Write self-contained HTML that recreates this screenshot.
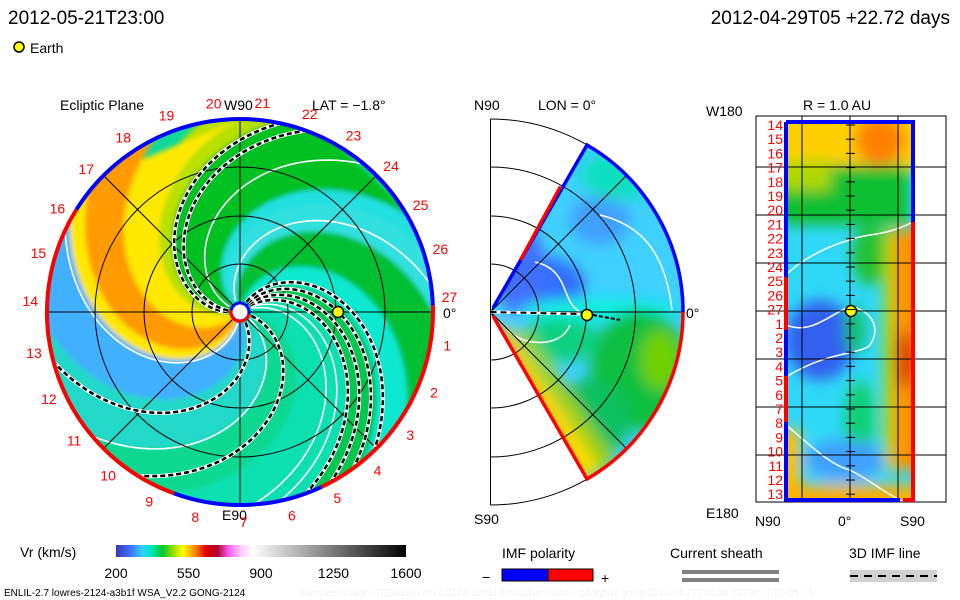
<!DOCTYPE html>
<html><head><meta charset="utf-8">
<style>
html,body{margin:0;padding:0;background:#fff;}
svg{display:block;font-family:"Liberation Sans",sans-serif;}
.t{font-size:14px;fill:#000;}
.r{font-size:14px;fill:#f00;}
</style></head>
<body>
<svg id="s" width="960" height="600" viewBox="0 0 960 600">
<defs>
<filter id="bl" x="-10%" y="-10%" width="120%" height="120%"><feGaussianBlur stdDeviation="2.5"/></filter>
<filter id="bl2" x="-30%" y="-30%" width="160%" height="160%"><feGaussianBlur stdDeviation="7"/></filter>
<clipPath id="cc"><circle cx="240" cy="312" r="193"/></clipPath>
<clipPath id="wc"><path d="M490.5,312 L587,145 A193,193 0 0 1 587,479 Z"/></clipPath>
<clipPath id="rc"><rect x="786" y="122" width="127" height="378"/></clipPath>
<linearGradient id="cb" x1="0" x2="1" y1="0" y2="0">
<stop offset="0" stop-color="#3838b0"/><stop offset="0.05" stop-color="#4070ff"/><stop offset="0.09" stop-color="#30d0ff"/>
<stop offset="0.12" stop-color="#00e8c0"/><stop offset="0.16" stop-color="#00c830"/><stop offset="0.2" stop-color="#a0e000"/>
<stop offset="0.23" stop-color="#ffff00"/><stop offset="0.27" stop-color="#ff9000"/><stop offset="0.31" stop-color="#e00000"/>
<stop offset="0.35" stop-color="#b00030"/><stop offset="0.39" stop-color="#ff60ff"/><stop offset="0.43" stop-color="#ffc8ff"/>
<stop offset="0.47" stop-color="#ffffff"/><stop offset="1" stop-color="#000000"/></linearGradient>
</defs>

<text x="8" y="24" style="font-size:19px">2012-05-21T23:00</text>
<text x="950" y="24" text-anchor="end" style="font-size:19px">2012-04-29T05 +22.72 days</text>
<circle cx="19" cy="47" r="5" fill="#ff0" stroke="#000" stroke-width="1.5"/>
<text x="30" y="53" class="t">Earth</text>

<g id="left">
<text x="60" y="110" class="t">Ecliptic Plane</text>
<text x="224" y="110" class="t">W90</text>
<text x="312" y="110" class="t">LAT = −1.8°</text>
<text x="222" y="520" class="t">E90</text>
<text x="443" y="318" class="t">0°</text>
<circle cx="240" cy="312" r="193" fill="#10d898"/>
<g id="bands" clip-path="url(#cc)" filter="url(#bl)"></g>
<g id="llines" clip-path="url(#cc)"></g>
<g id="rim"></g>
<g id="lab"></g>
</g>

<g id="mid">
<text x="474" y="110" class="t">N90</text>
<text x="538" y="110" class="t">LON = 0°</text>
<text x="474" y="524" class="t">S90</text>
<text x="686" y="318" class="t">0°</text>
<g clip-path="url(#wc)">
<rect x="480" y="130" width="220" height="360" fill="#40d0ff"/>
<g filter="url(#bl2)">
<ellipse cx="540" cy="285" rx="45" ry="28" fill="#3070ff"/>
<ellipse cx="520" cy="270" rx="25" ry="45" fill="#4070ff"/>
<ellipse cx="600" cy="220" rx="30" ry="25" fill="#40a0ff"/>
<ellipse cx="620" cy="175" rx="40" ry="25" fill="#10e0c0"/>
<ellipse cx="600" cy="310" rx="80" ry="12" fill="#10f0e0"/>
<ellipse cx="640" cy="370" rx="50" ry="60" fill="#10c040"/>
<ellipse cx="660" cy="360" rx="20" ry="30" fill="#70d000"/>
<ellipse cx="560" cy="340" rx="40" ry="22" fill="#10d080"/>
<ellipse cx="590" cy="420" rx="40" ry="40" fill="#10c060"/>
<path d="M495,318 L590,480 L560,480 L495,340 Z" fill="#ff9000"/>
<path d="M500,325 L585,480 L600,470 L510,330 Z" fill="#ffe000"/>
<path d="M515,330 L600,470 L615,460 L530,335 Z" fill="#a0d000"/>
</g>
<path d="M535,262 C570,270 560,300 580,312 M600,215 C640,225 665,250 672,310 M508,330 C520,345 560,350 570,325" fill="none" stroke="#fff" stroke-width="1.5"/>
</g>
<g fill="none" stroke="#000" stroke-width="1">
<path d="M490.5,119 L490.5,505"/>
<path d="M490.5,264 A48,48 0 0 1 490.5,360 M490.5,216 A96,96 0 0 1 490.5,408 M490.5,167 A145,145 0 0 1 490.5,457 M490.5,119 A193,193 0 0 1 490.5,505"/>
<path d="M490.5,312 L683,312 M490.5,312 L587,145 M490.5,312 L587,479 M490.5,312 L626,176 M490.5,312 L626,448"/>
</g>
<path d="M493,308 L587,145 A193,193 0 0 1 683,312" fill="none" stroke="#00f" stroke-width="3.5"/>
<path d="M683,312 A193,193 0 0 1 587,479 L493,316" fill="none" stroke="#f00" stroke-width="3.5"/>
<path d="M520.5,260 L560.5,186.5" stroke="#f00" stroke-width="3.5"/>
<path d="M490.5,312 L580,314" stroke="#fff" stroke-width="3"/>
<path d="M490.5,312 L580,314" stroke="#000" stroke-width="2" stroke-dasharray="6,4"/>
<path d="M593,315 L620,320" stroke="#000" stroke-width="2" stroke-dasharray="4,2"/>
<circle cx="587" cy="315" r="5.5" fill="#ff0" stroke="#000" stroke-width="1.5"/>
</g>

<g id="right">
<text x="803" y="110" class="t">R = 1.0 AU</text>
<text x="706" y="116" class="t">W180</text>
<text x="706" y="518" class="t">E180</text>
<text x="755" y="526" class="t">N90</text>
<text x="838" y="526" class="t">0°</text>
<text x="900" y="526" class="t">S90</text>
<g clip-path="url(#rc)">
<rect x="786" y="122" width="127" height="378" fill="#30d8f8"/>
<g filter="url(#bl2)">
<rect x="770" y="110" width="160" height="60" fill="#ffd000"/>
<ellipse cx="880" cy="140" rx="25" ry="25" fill="#ff8000"/>
<rect x="770" y="165" width="140" height="60" fill="#10c030"/>
<rect x="770" y="160" width="60" height="30" fill="#b0d800"/>
<ellipse cx="870" cy="255" rx="18" ry="30" fill="#20c030"/>
<ellipse cx="820" cy="340" rx="35" ry="40" fill="#3060f0"/>
<ellipse cx="860" cy="420" rx="15" ry="40" fill="#10d070"/>
<ellipse cx="855" cy="330" rx="10" ry="25" fill="#10c060"/>
<ellipse cx="845" cy="460" rx="40" ry="20" fill="#40a0ff"/>
<rect x="892" y="230" width="30" height="240" fill="#ff9000"/>
<rect x="884" y="230" width="10" height="240" fill="#b0d800"/>
<ellipse cx="905" cy="360" rx="10" ry="30" fill="#e03000"/>
<rect x="770" y="430" width="30" height="80" fill="#ffc000"/>
<rect x="780" y="485" width="140" height="30" fill="#ffb000"/>
</g>
<path d="M786,275 C800,260 830,245 850,240 C870,232 880,238 913,222 M786,325 C810,335 830,315 850,306 C875,312 880,330 870,345 C860,355 830,350 786,377 M786,425 C810,445 830,465 850,470 C870,480 880,490 900,500" fill="none" stroke="#fff" stroke-width="1.5"/>
</g>
<rect x="756" y="116" width="190" height="386" fill="none" stroke="#000"/>
<g stroke="#000" stroke-width="1" id="rgrid"></g>
<path d="M786,122 L786,277 M786,330 L786,376 M786,422 L786,500 L900,500 M786,122 L913,122 L913,222" fill="none" stroke="#00f" stroke-width="4"/>
<path d="M786,277 L786,330 M786,376 L786,422 M913,222 L913,500 L903,500" fill="none" stroke="#f00" stroke-width="4"/>
<circle cx="851" cy="311" r="5.5" fill="#ff0" stroke="#000" stroke-width="1.5"/>
<g id="rlab"></g>
</g>

<g id="legend">
<text x="20" y="557" class="t">Vr (km/s)</text>
<rect x="116" y="545" width="290" height="12" fill="url(#cb)"/>
<g id="cbt"></g>
<text x="502" y="558" class="t">IMF polarity</text>
<text x="482" y="582" class="t">−</text>
<rect x="502" y="569" width="46" height="12" fill="#00f" stroke="#000"/>
<rect x="548" y="569" width="45" height="12" fill="#f00" stroke="#000"/>
<text x="601" y="583" class="t">+</text>
<text x="670" y="558" class="t">Current sheath</text>
<rect x="682" y="570" width="97" height="4" fill="#808080"/>
<rect x="682" y="578" width="97" height="4" fill="#808080"/>
<text x="849" y="558" class="t">3D IMF line</text>
<rect x="850" y="570" width="87" height="12" fill="#d0d0d0"/>
<path d="M850,576 L937,576" stroke="#000" stroke-width="2" stroke-dasharray="8,6"/>
<text x="4" y="596" style="font-size:10px">ENLIL-2.7 lowres-2124-a3b1f WSA_V2.2 GONG-2124</text>
<text x="300" y="596" style="font-size:10px;fill:#f2f2f2">xamples/wsadr2.7/256x30x90x1.2124-a3b1f.8-mcp1umn1cd-1.g53q5d2.gong-2012:04:27T04:38:00T00   2012-05-21</text>
</g>
</svg>
<script>
const cbTicks=[200,550,900,1250,1600];
const carrLabels=[14,15,16,17,18,19,20,21,22,23,24,25,26,27,1,2,3,4,5,6,7,8,9,10,11,12,13];
const bandStart=[110,140,190,200,226,262,295,330,360,400,420,440,470];
const bandEnd  =[140,190,212,262,252,295,330,360,400,420,440,470,490];
const bandColor=["#20e0e0","#00c020","#b8e000","#ffe800","#ff9a00","#40b0ff","#20d8c8","#10d890","#10e0b0","#00c850","#10e8d0","#00c030","#30e0e0"];
const dashedSp=[188,180,305,348,40,48,56,64];
const whiteSp=[118,265,24,32,330,160];
const NS='http://www.w3.org/2000/svg',cx=240,cy=312,R=193,K=110;
function mk(t,a,p){const e=document.createElementNS(NS,t);for(const k in a)e.setAttribute(k,a[k]);p.appendChild(e);return e;}
function sp(th0,r0,r1){let d=[];for(let r=r0;r<=r1;r+=4){const a=(th0-K*r/R)*Math.PI/180;d.push([cx+r*Math.cos(a),cy-r*Math.sin(a)]);}return d;}
const bands=document.getElementById('bands');
bandStart.forEach((s,i)=>{const a=sp(s,0,210),b=sp(bandEnd[i],0,210).reverse();const d='M'+a.concat(b).map(p=>p[0].toFixed(1)+','+p[1].toFixed(1)).join('L')+'Z';
const e=mk('path',{d:d,fill:bandColor[i]},bands);

});
const ll=document.getElementById('llines');
whiteSp.forEach(t=>{const d='M'+sp(t,12,200).map(p=>p.join(',')).join('L');
const e=mk('path',{d:d,fill:'none',stroke:'#fff','stroke-width':1.6},ll);

});
[48,96,145,193].forEach(r=>mk('circle',{cx:cx,cy:cy,r:r,fill:'none',stroke:'#000','stroke-width':1},ll));
[0,45,90,135].forEach(a=>{const c=Math.cos(a*Math.PI/180)*R,s=Math.sin(a*Math.PI/180)*R;mk('line',{x1:cx-c,y1:cy+s,x2:cx+c,y2:cy-s,stroke:'#000','stroke-width':1},ll);});
dashedSp.forEach(t=>{const d='M'+sp(t,12,200).map(p=>p.join(',')).join('L');
mk('path',{d:d,fill:'none',stroke:'#fff','stroke-width':4},ll);
const e=mk('path',{d:d,fill:'none',stroke:'#000','stroke-width':2.5,'stroke-dasharray':'5,3'},ll);

});
mk('circle',{cx:cx,cy:cy,r:9,fill:'#fff',stroke:'#00f','stroke-width':3},ll);
mk('path',{d:'M231,310 A9,9 0 0 0 249,314',fill:'none',stroke:'#f00','stroke-width':3},ll);
const earth=mk('circle',{cx:338,cy:312,r:5.5,fill:'#ff0',stroke:'#000','stroke-width':1.5},ll);


const rim=document.getElementById('rim');
function arc(a1,a2,col){const p1=[cx+R*Math.cos(a1*Math.PI/180),cy-R*Math.sin(a1*Math.PI/180)],p2=[cx+R*Math.cos(a2*Math.PI/180),cy-R*Math.sin(a2*Math.PI/180)];
const big=(a2-a1)>180?1:0;mk('path',{d:`M${p1} A${R},${R} 0 ${big} 0 ${p2}`,fill:'none',stroke:col,'stroke-width':4},rim);}
arc(2,148,'#00f');arc(148,250,'#f00');arc(250,295,'#00f');arc(295,362,'#f00');
const lab=document.getElementById('lab');
carrLabels.forEach((v,i)=>{const a=(177-i*13.3)*Math.PI/180;const x=cx+210*Math.cos(a),y=cy-210*Math.sin(a)+5;
const e=mk('text',{x:x.toFixed(1),y:y.toFixed(1),'text-anchor':'middle',class:'r'},lab);e.textContent=v;

});
const rg=document.getElementById('rgrid');
[167,215,263,311,359,407,455].forEach(y=>mk('line',{x1:756,y1:y,x2:946,y2:y},rg));
[802,850,898].forEach(x=>mk('line',{x1:x,y1:116,x2:x,y2:502},rg));
const rl=document.getElementById('rlab');
carrLabels.forEach((v,i)=>{const y=125+i*14.2;mk('line',{x1:846,y1:y,x2:855,y2:y,stroke:'#000'},rl);
const e=mk('text',{x:783,y:(y+5).toFixed(1),'text-anchor':'end',class:'r'},rl);e.textContent=v;

});
const cbt=document.getElementById('cbt');
cbTicks.forEach(v=>{const x=116+(v-200)/1400*290;const e=mk('text',{x:x,y:578,'text-anchor':'middle',class:'t'},cbt);e.textContent=v;

});
</script>
</body></html>
